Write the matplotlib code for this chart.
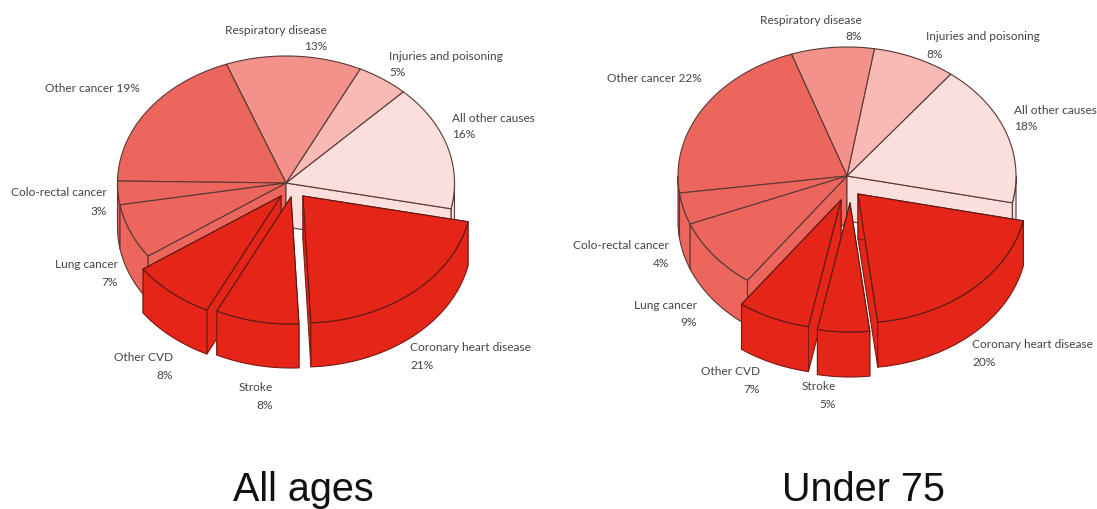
import numpy as np
import matplotlib
matplotlib.use("Agg")
import matplotlib.pyplot as plt
from matplotlib.patches import Polygon

causes = ["All other causes", "Injuries and poisoning", "Respiratory disease",
          "Other cancer", "Colo-rectal cancer", "Lung cancer",
          "Other CVD", "Stroke", "Coronary heart disease"]
all_ages = [16, 5, 13, 19, 3, 7, 8, 8, 21]
under_75 = [18, 8, 8, 22, 4, 9, 7, 5, 20]
titles = ["All ages", "Under 75"]

colors = ["#FBDFDC", "#F7BAB5", "#F2928A", "#EC665D", "#EC665D", "#EC665D",
          "#E52518", "#E52518", "#E52518"]
EDGE = "#5A3835"
TEXT = "#444444"
LABEL_SIZE = 8.6

# pie geometry in figure pixels: centre, radii, depth, angle of the first slice
pie_left = dict(cx=286, cy=184, rx=168.5, ry=127, depth=44, start=-11.7)
pie_right = dict(cx=847, cy=177, rx=169, ry=129, depth=45, start=-12)

# pixel shift of the pulled-out slices (Other CVD, Stroke, CHD)
shift_left = {6: (-5, 13), 7: (5, 14), 8: (17, 13)}
shift_right = {6: (-6, 24), 7: (3, 27), 8: (11, 18)}

# label anchors: x, y of the name line, y of the value line, alignment
anchors_left = [(452, 118, 135, "left"), (389, 56, 73, "left"), (327, 30, 47, "right"),
                (45, 88, None, "left"), (107, 193, 212, "right"), (118, 265, 283, "right"),
                (173, 358, 376, "right"), (273, 388, 406, "right"), (410, 348, 366, "left")]
anchors_right = [(1014, 110, 127, "left"), (926, 37, 55, "left"), (862, 20, 37, "right"),
                 (607, 79, None, "left"), (669, 246, 264, "right"), (697, 306, 323, "right"),
                 (760, 372, 390, "right"), (836, 387, 405, "right"), (972, 345, 363, "left")]


def rim(p, angles, dx=0, dy=0, drop=0):
    t = np.radians(angles)
    return np.column_stack([p["cx"] + dx + p["rx"] * np.cos(t),
                            p["cy"] + dy + drop - p["ry"] * np.sin(t)])


def shape(ax, pts, color, lw=0.8, edge=EDGE):
    ax.add_patch(Polygon(pts, closed=True, facecolor=color, edgecolor=edge,
                         linewidth=lw, joinstyle="round"))


def cut_face(ax, p, angle, color, dx=0, dy=0, edge=EDGE):
    apex = np.array([p["cx"] + dx, p["cy"] + dy])
    out = rim(p, [angle], dx, dy)[0]
    down = np.array([0, p["depth"]])
    shape(ax, [apex, out, out + down, apex + down], color, edge=edge)


def outer_wall(ax, p, a0, a1, color, dx=0, dy=0, edge=EDGE):
    a = np.linspace(a0, a1, 400)
    a = a[np.sin(np.radians(a)) <= 0.001]
    if len(a) < 2:
        return
    upper = rim(p, a, dx, dy)
    lower = rim(p, a[::-1], dx, dy, p["depth"])
    shape(ax, np.vstack([upper, lower]), color, edge=edge)


def top_face(ax, p, a0, a1, color, dx=0, dy=0, edge=EDGE):
    arc = rim(p, np.linspace(a0, a1, 200), dx, dy)
    shape(ax, np.vstack([[[p["cx"] + dx, p["cy"] + dy]], arc]), color, edge=edge)


def draw_pie(ax, values, p, shifts):
    steps = np.array(values) / sum(values) * 360
    bounds = p["start"] + np.concatenate([[0], np.cumsum(steps)])
    intact = [i for i in range(len(values)) if i not in shifts]

    # standing part first: walls, the two faces left open by the gap, then tops
    for i in intact:
        outer_wall(ax, p, bounds[i], bounds[i + 1], colors[i])
    cut_face(ax, p, bounds[intact[-1] + 1], colors[intact[-1]])
    cut_face(ax, p, bounds[intact[0]], colors[intact[0]])
    for i in intact:
        top_face(ax, p, bounds[i], bounds[i + 1], colors[i])

    # pulled-out slices, left to right
    for i in shifts:
        dx, dy = shifts[i]
        cut_face(ax, p, bounds[i], colors[i], dx, dy, "#7A1A12")
        cut_face(ax, p, bounds[i + 1], colors[i], dx, dy, "#7A1A12")
        outer_wall(ax, p, bounds[i], bounds[i + 1], colors[i], dx, dy, "#7A1A12")
        top_face(ax, p, bounds[i], bounds[i + 1], colors[i], dx, dy, "#5A1A14")


def draw_labels(ax, values, anchors):
    for name, v, (x, y1, y2, ha) in zip(causes, values, anchors):
        if y2 is None:
            ax.text(x, y1, f"{name} {v}%", ha=ha, va="center", color=TEXT,
                    family="Lato", fontsize=LABEL_SIZE)
            continue
        ax.text(x, y1, name, ha=ha, va="center", color=TEXT, family="Lato", fontsize=LABEL_SIZE)
        ax.text(x, y2, f"{v}%", ha=ha, va="center", color=TEXT, family="Lato", fontsize=LABEL_SIZE)


fig = plt.figure(figsize=(10.97, 5.10), dpi=100)
ax = fig.add_axes([0, 0, 1, 1])
ax.set_xlim(0, 1097)
ax.set_ylim(510, 0)
ax.axis("off")

draw_pie(ax, all_ages, pie_left, shift_left)
draw_pie(ax, under_75, pie_right, shift_right)
draw_labels(ax, all_ages, anchors_left)
draw_labels(ax, under_75, anchors_right)

ax.text(303.5, 501.5, titles[0], ha="center", va="baseline", family="Liberation Sans",
        fontsize=28.5, color="#111111")
ax.text(863.5, 501.5, titles[1], ha="center", va="baseline", family="Liberation Sans",
        fontsize=28.5, color="#111111")

fig.savefig("out.png", dpi=100)
